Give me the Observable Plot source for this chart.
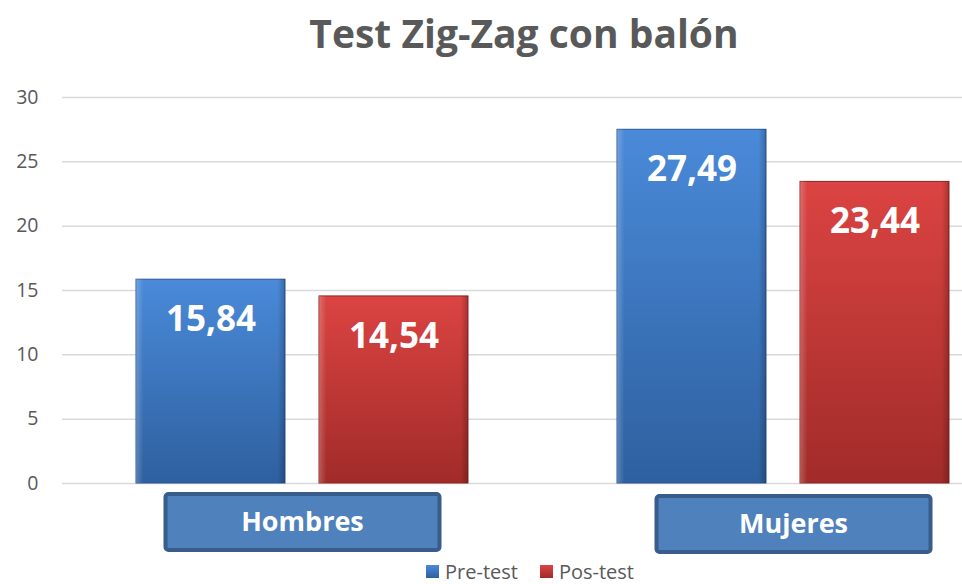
<!DOCTYPE html>
<html>
<head>
<meta charset="utf-8">
<script src="https://cdn.jsdelivr.net/npm/d3@7"></script>
<script src="https://cdn.jsdelivr.net/npm/@observablehq/plot@0.6"></script>
<style>
  html, body { margin: 0; padding: 0; background: #fff; }
  body { width: 962px; height: 584px; overflow: hidden; font-family: "Open Sans", sans-serif; }
  #title { height: 70px; line-height: 66px; text-align: center; font-size: 39px; font-weight: bold; color: #595959; padding-left: 86px; box-sizing: border-box; }
  #legend { display: flex; justify-content: center; align-items: center; gap: 22px; font-size: 20px; color: #595959; height: 24px; margin-top: -1px; padding-left: 98px; }
  #legend span.sw { display: inline-block; width: 13px; height: 13px; margin-right: 6px; vertical-align: middle; }
  #legend .item { display: flex; align-items: center; }
</style>
</head>
<body>
<svg width="0" height="0" style="position:absolute">
  <defs>
    <linearGradient id="gBlue" x1="0" y1="0" x2="0" y2="1">
      <stop offset="0" stop-color="#4a8ad9"/>
      <stop offset="1" stop-color="#2e609f"/>
    </linearGradient>
    <linearGradient id="gRed" x1="0" y1="0" x2="0" y2="1">
      <stop offset="0" stop-color="#db4442"/>
      <stop offset="1" stop-color="#a12b29"/>
    </linearGradient>
    <linearGradient id="gBevel" x1="0" y1="0" x2="1" y2="0">
      <stop offset="0" stop-color="#fff" stop-opacity="0.22"/>
      <stop offset="0.05" stop-color="#fff" stop-opacity="0"/>
      <stop offset="0.95" stop-color="#000" stop-opacity="0"/>
      <stop offset="1" stop-color="#000" stop-opacity="0.22"/>
    </linearGradient>
  </defs>
</svg>
<div id="title">Test Zig-Zag con balón</div>
<div id="chart"></div>
<div id="legend"></div>
<script>
const categories = ["Hombres", "Mujeres"];
const seriesNames = ["Pre-test", "Pos-test"];
const preTest = [15.84, 27.49];
const posTest = [14.54, 23.44];
const yTicks = [0, 5, 10, 15, 20, 25, 30];

const data = [];
categories.forEach((c, i) => {
  data.push({group: c, series: seriesNames[0], value: preTest[i]});
  data.push({group: c, series: seriesNames[1], value: posTest[i]});
});
const fills = ["url(#gBlue)", "url(#gRed)"];
const strokes = ["#2a5590", "#8e2624"];

const fmt = v => v.toFixed(2).replace(".", ",");

const plot = Plot.plot({
  width: 962,
  height: 490,
  marginLeft: 62,
  marginRight: -62,
  marginTop: 27,
  marginBottom: 77,
  style: {fontFamily: "Open Sans, sans-serif", background: "transparent"},
  fx: {domain: categories, padding: 0, axis: null, label: null},
  x: {domain: seriesNames, paddingInner: 0.185, paddingOuter: 0.40, axis: null, label: null},
  y: {domain: [0, 30], axis: null, label: null},
  color: {domain: seriesNames, range: fills},
  marks: [
    Plot.gridY(yTicks, {stroke: "#d9d9d9", strokeOpacity: 1, strokeWidth: 1.5}),
    Plot.axisY(yTicks, {facetAnchor: "left", tickSize: 0, tickPadding: 24, fontSize: 19.5, fill: "#595959", tickFormat: d => d, label: null}),
    Plot.barY(data, {fx: "group", x: "series", y: "value", fill: "series",
      stroke: d => strokes[seriesNames.indexOf(d.series)], strokeWidth: 1}),
    Plot.barY(data, {fx: "group", x: "series", y: "value", fill: "url(#gBevel)"}),
    Plot.text(data, {fx: "group", x: "series", y: "value", text: d => fmt(d.value),
      dy: 40, fill: "white", fontSize: 35, fontWeight: "bold"})
  ]
});
document.getElementById("chart").appendChild(plot);

// Category label boxes placed through the fx scale
const fx = plot.scale("fx");
const svg = d3.select(plot);
const g = svg.append("g");
const y0 = plot.scale("y").apply(0);
categories.forEach((c, i) => {
  const cx = fx.apply(c) + fx.bandwidth / 2 + (i === 1 ? 10 : 0);
  const bw = 274, bh = 56;
  g.append("rect")
    .attr("x", cx - bw / 2).attr("y", y0 + 11 + i * 2)
    .attr("width", bw).attr("height", bh)
    .attr("rx", 3)
    .attr("fill", "#4f81bd").attr("stroke", "#385d8a").attr("stroke-width", 4);
  g.append("text")
    .attr("x", cx).attr("y", y0 + 11 + i * 2 + bh / 2)
    .attr("text-anchor", "middle").attr("dy", "0.35em")
    .attr("fill", "white").attr("font-size", 27).attr("font-weight", "bold")
    .attr("font-family", "Open Sans, sans-serif")
    .text(c);
});

// Legend
const legend = d3.select("#legend");
seriesNames.forEach((s, i) => {
  const it = legend.append("div").attr("class", "item");
  it.append("span").attr("class", "sw").style("background", i === 0 ? "linear-gradient(#4a8ad9,#2e609f)" : "linear-gradient(#db4442,#a12b29)");
  it.append("span").text(s);
});
</script>
</body>
</html>
